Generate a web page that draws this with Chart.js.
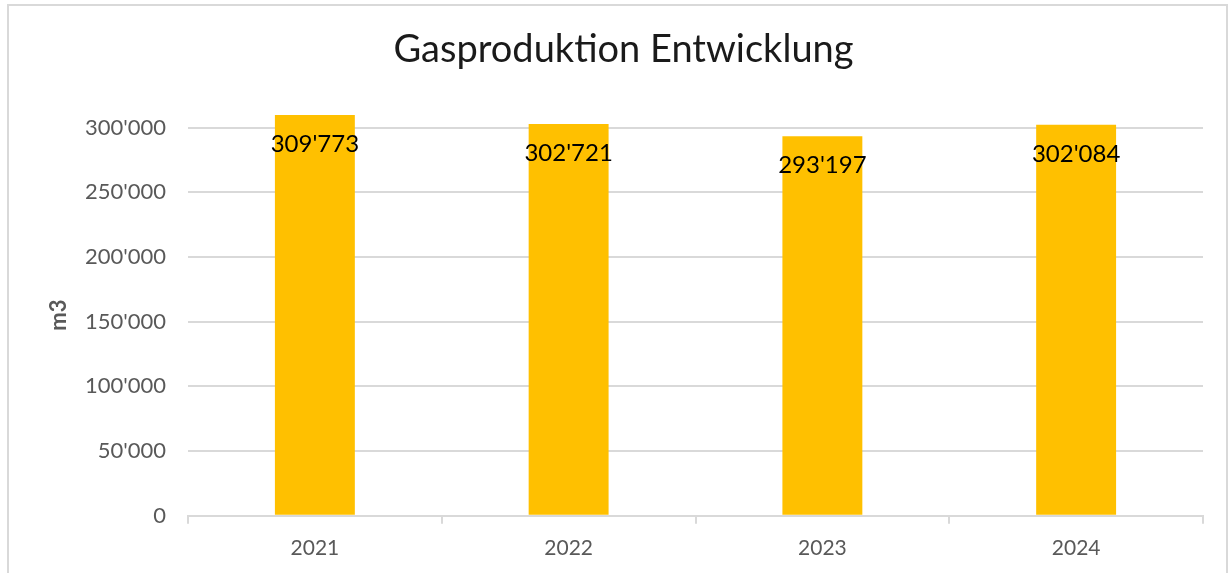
<!DOCTYPE html>
<html>
<head>
<meta charset="utf-8">
<script src="https://cdn.jsdelivr.net/npm/chart.js@4/dist/chart.umd.min.js"></script>
<style>
  html, body { margin: 0; padding: 0; background: #fff; }
  #wrap { position: absolute; left: 7px; top: 4px; width: 1221px; height: 580px; border: 2px solid #d9d9d9; box-sizing: border-box; }
  #box { position: absolute; left: 0; top: 0; width: 1231px; height: 573px; }
</style>
</head>
<body>
<div id="wrap"></div>
<div id="box"><canvas id="chart"></canvas></div>
<script>
const years = ['2021', '2022', '2023', '2024'];
const production = [309773, 302721, 293197, 302084];
const yTicks = [0, 50000, 100000, 150000, 200000, 250000, 300000];

const fontFam = 'Lato, "Noto Sans", sans-serif';

function fmt(n) {
  return String(n).replace(/\B(?=(\d{3})+(?!\d))/g, "'");
}

// Werte innen oben in den Balken
const valueLabels = {
  id: 'valueLabels',
  afterDatasetsDraw(chart) {
    const c = chart.ctx;
    const meta = chart.getDatasetMeta(0);
    c.save();
    c.font = '24px ' + fontFam;
    c.fillStyle = '#000';
    c.textAlign = 'center';
    c.textBaseline = 'top';
    meta.data.forEach((bar, i) => {
      c.fillText(fmt(production[i]), bar.x, bar.y + 17);
    });
    c.restore();
  }
};

new Chart(document.getElementById('chart'), {
  type: 'bar',
  data: {
    labels: years,
    datasets: [{
      data: production,
      backgroundColor: '#ffc000',
      categoryPercentage: 1,
      barPercentage: 0.315
    }]
  },
  options: {
    responsive: true,
    maintainAspectRatio: false,
    animation: false,
    layout: { padding: { left: 44, right: 28, top: 18, bottom: 0 } },
    plugins: {
      legend: { display: false },
      tooltip: { enabled: false },
      title: {
        display: true,
        text: 'Gasproduktion Entwicklung',
        color: '#1a1a1a',
        font: { family: fontFam, size: 38, weight: 'normal' },
        padding: { top: 9, bottom: 42 }
      }
    },
    scales: {
      x: {
        grid: { offset: true, drawOnChartArea: false, color: '#d9d9d9', lineWidth: 2, tickLength: 8 },
        border: { display: true, color: '#d9d9d9', width: 2 },
        ticks: { color: '#595959', font: { family: fontFam, size: 21 }, padding: 12 }
      },
      y: {
        min: 0,
        max: 310000,
        afterBuildTicks(axis) {
          axis.ticks = yTicks.map(v => ({ value: v }));
        },
        afterFit(axis) {
          axis.width = 144;
        },
        grid: { color: '#d9d9d9', lineWidth: 2, tickLength: 0 },
        border: { display: false },
        ticks: {
          color: '#595959',
          font: { family: fontFam, size: 22 },
          padding: 22,
          callback: v => fmt(v)
        },
        title: {
          display: true,
          text: 'm3',
          color: '#595959',
          font: { family: fontFam, size: 22, weight: 'bold' },
          padding: { top: 2, bottom: 4 }
        }
      }
    }
  },
  plugins: [valueLabels]
});
</script>
</body>
</html>
